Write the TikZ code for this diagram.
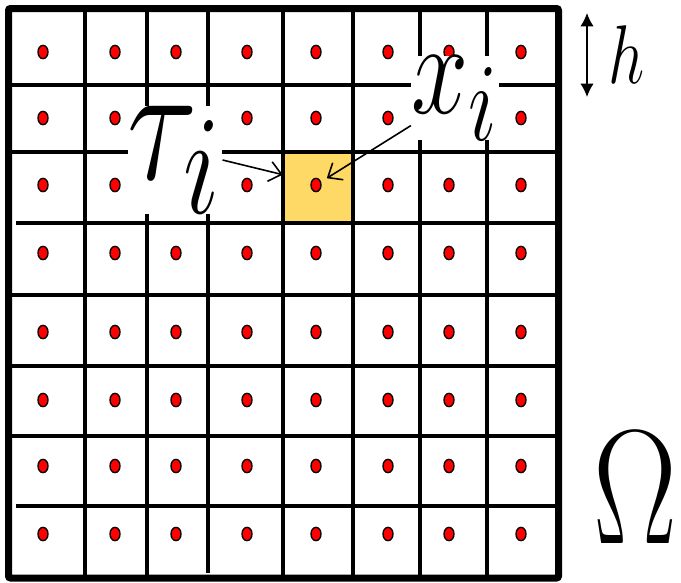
\documentclass[tikz,border=0pt]{standalone}
\usepackage{graphicx}
\usetikzlibrary{arrows.meta,shapes.geometric}
\definecolor{cellfill}{RGB}{255,217,102}
% #1 = width factor, #2 = height factor (the figure is stretched upwards)
\newcommand{\bigmath}[3]{\scalebox{#1}[#2]{\fontsize{24.88}{24.88}\selectfont$#3$}}
\tikzset{
  gridline/.style={line width=2.4pt},
  meshdot/.style={ellipse, draw=black, fill=red, line width=1pt, minimum width=7.5pt, minimum height=10pt, inner sep=0pt},
  biglabel/.style={fill=white, inner sep=0pt},
  pointer/.style={-{Straight Barb[length=9pt,width=15pt]}, line width=1.2pt}
}
\begin{document}
\begin{tikzpicture}[x=0.75pt,y=-0.75pt]
        \useasboundingbox (0,0) rectangle (681,582);

        % 1. The marked cell (yellow)
        \node[fill=cellfill, minimum width=52.5pt, minimum height=53.25pt, inner sep=0pt] (cell) at (318,187.5) {};

        % 2. Grid lines
        \foreach \gx/\gb in {85/578,147/578,208/573,283/578,353/578,420/578,487/578}
            \draw[gridline] (\gx,8) -- (\gx,\gb);
        \foreach \gy/\ga in {85/8,152/8,223/16,295/8,366/8,436/8,506/16}
            \draw[gridline] (\ga,\gy) -- (558,\gy);

        % 3. Outer frame
        \draw[line width=5.25pt, rounded corners=1.5pt] (8.5,8.5) rectangle (558.5,578);

        % 4. Points in the cells (red)
        \foreach \r/\yy in {1/52,2/118,3/185,4/253,5/332,6/400,7/466,8/534}
            \foreach \c/\xx in {1/43,2/115,3/176,4/247,5/316,6/388,7/449,8/521}
                \node[meshdot] (d-\r-\c) at (\xx,\yy) {};

        % 5. Labels
        \node[biglabel] (tau) at (175,160) {\bigmath{3.94}{5.12}{\tau_i}};
        \node[biglabel] (xi) at (455,98) {\bigmath{3.09}{4.02}{x_i}};
        \draw[pointer] (tau.east) -- (cell.160);
        \draw[pointer, shorten >=5pt] (xi) -- (d-3-5);

        % 6. Cell size h
        \coordinate (htop) at (587,13);
        \coordinate (hbot) at (587,97);
        \draw[{Latex[length=10pt,width=10pt]}-{Latex[length=10pt,width=10pt]}, line width=1.1pt] (htop) -- (hbot);
        \node (hlabel) at (627,55) {\bigmath{1.93}{2.51}{h}};

        % 7. Domain
        \node (omega) at (635,488) {\bigmath{3.78}{4.91}{\Omega}};

    \end{tikzpicture}
\end{document}
